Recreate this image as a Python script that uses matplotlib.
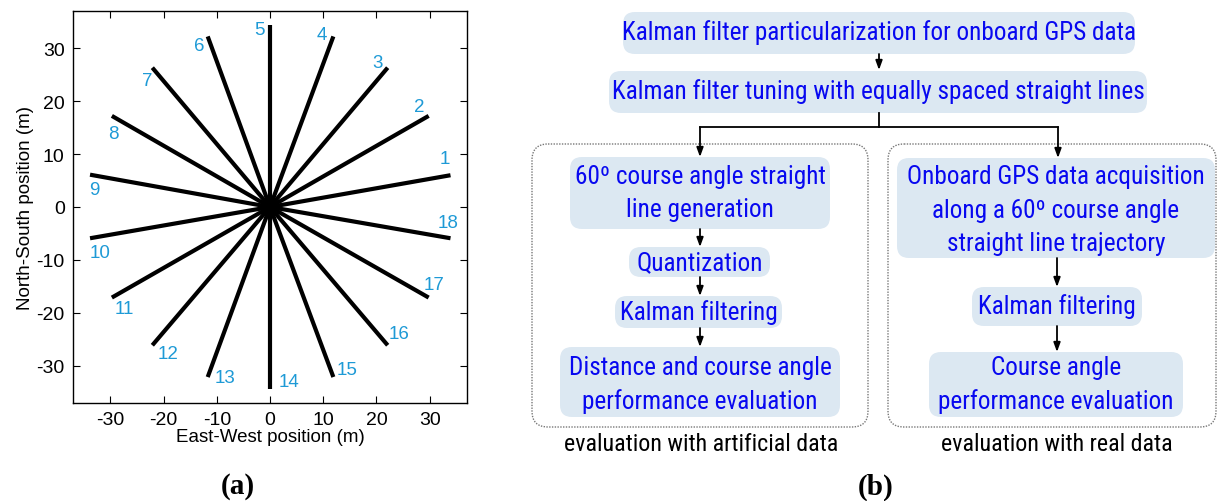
import matplotlib
matplotlib.use("Agg")
import matplotlib.pyplot as plt
from matplotlib.patches import FancyBboxPatch
from matplotlib import font_manager
from matplotlib.font_manager import FontProperties

# ---------------- data ----------------
line_ids = list(range(1, 19))
end_x = [33.9, 29.8, 22.1, 11.9, 0.0, -11.7, -22.1, -29.7, -33.8,
         -33.8, -29.7, -22.1, -11.7, 0.0, 11.9, 22.1, 29.8, 33.9]
end_y = [6.0, 17.2, 26.3, 32.2, 34.3, 32.2, 26.3, 17.2, 6.1,
         -5.9, -17.1, -26.1, -32.1, -34.3, -32.1, -26.1, -17.1, -5.9]
label_x = [32.8, 28.0, 20.2, 9.7, -1.9, -13.3, -23.1, -29.5, -33.0,
           -31.9, -27.3, -19.2, -8.4, 3.6, 14.4, 24.2, 30.9, 33.4]
label_y = [9.1, 19.0, 27.2, 32.6, 33.5, 30.4, 23.9, 13.9, 3.3,
           -8.5, -19.2, -27.7, -32.1, -33.0, -30.6, -23.8, -14.6, -3.0]
ticks = [-30, -20, -10, 0, 10, 20, 30]

# ---------------- fonts ----------------
ttf = font_manager.fontManager.ttflist
avail = {f.name for f in ttf}
sans = 'Liberation Sans' if 'Liberation Sans' in avail else 'DejaVu Sans'
serif = 'Liberation Serif' if 'Liberation Serif' in avail else 'DejaVu Serif'

narrow_file = None
prefs = ['Liberation Sans Narrow', 'Arial Narrow', 'Roboto Condensed',
         'Open Sans Condensed', 'Noto Sans Condensed', 'DejaVu Sans Condensed']
for pname in prefs:
    for f in ttf:
        if f.name == pname and f.weight in (400, 'normal', 'regular') and f.style == 'normal':
            narrow_file = f.fname
            break
    if narrow_file:
        break
if narrow_file is None:
    for f in ttf:
        fn = f.fname.lower()
        if ('condensed' in fn or 'narrow' in fn) and 'bold' not in fn and 'oblique' not in fn \
                and 'italic' not in fn and 'light' not in fn and 'thin' not in fn \
                and 'black' not in fn and 'medium' not in fn and 'semi' not in fn:
            if 'sans' in fn or 'roboto' in fn or 'arial' in fn:
                narrow_file = f.fname
                break

if narrow_file:
    def nfp(size):
        return FontProperties(fname=narrow_file, size=size)
    box_fs, cap_fs = 18.2, 17.3
else:
    def nfp(size):
        return FontProperties(family=[sans, 'DejaVu Sans'], size=size)
    box_fs, cap_fs = 15.5, 14.5

plt.rcParams['font.family'] = [sans, 'DejaVu Sans']
plt.rcParams['axes.unicode_minus'] = False

W, H = 1219, 502
fig = plt.figure(figsize=(W / 100, H / 100), dpi=100)

# ---------------- panel (a) ----------------
ax = fig.add_axes([73 / W, 1 - 404 / H, 394 / W, 392 / H])
for x, y in zip(end_x, end_y):
    ax.plot([0, x], [0, y], color='black', lw=3.0, solid_capstyle='butt')
for i, x, y in zip(line_ids, label_x, label_y):
    ax.text(x, y, str(i), color='#1e9ad6', fontsize=13.5, ha='center', va='center')
ax.set_xlim(-37, 37)
ax.set_ylim(-37, 37)
ax.set_xticks(ticks)
ax.set_yticks(ticks)
ax.tick_params(direction='in', top=True, right=True, length=5, labelsize=14, pad=6)
ax.set_xlabel('East-West position (m)', fontsize=13.5, labelpad=0)
ax.set_ylabel('North-South position (m)', fontsize=13.5, labelpad=2)
for s in ax.spines.values():
    s.set_linewidth(1.0)

# ---------------- panel (b) : flowchart ----------------
fa = fig.add_axes([0, 0, 1, 1])
fa.set_xlim(0, W)
fa.set_ylim(H, 0)
fa.axis('off')

fill = '#dce8f2'
tcol = '#0808f0'


def box(x0, y0, x1, y1, lines, line_y):
    p = FancyBboxPatch((x0, y0), x1 - x0, y1 - y0,
                       boxstyle='round,pad=0,rounding_size=12',
                       fc=fill, ec='none')
    fa.add_patch(p)
    cx = (x0 + x1) / 2
    for t, yy in zip(lines, line_y):
        fa.text(cx, yy, t, color=tcol, ha='center', va='center',
                fontproperties=nfp(box_fs))


def arrow(x, y0, y1):
    fa.annotate('', xy=(x, y1), xytext=(x, y0),
                arrowprops=dict(arrowstyle='-|>,head_length=0.55,head_width=0.2',
                                color='black', lw=1.3, shrinkA=0, shrinkB=0))


def container(x0, y0, x1, y1):
    p = FancyBboxPatch((x0, y0), x1 - x0, y1 - y0,
                       boxstyle='round,pad=0,rounding_size=16',
                       fc='none', ec='#777777', lw=1.0, ls=(0, (1, 1)))
    fa.add_patch(p)


container(532, 145, 868, 428)
container(888, 145, 1216, 428)

box(623, 13, 1135, 55, ['Kalman filter particularization for onboard GPS data'], [33])
arrow(879, 55, 71)
box(609, 72, 1147, 114, ['Kalman filter tuning with equally spaced straight lines'], [92])
fa.plot([879, 879], [114, 128], color='black', lw=1.3)
fa.plot([700, 1058], [128, 128], color='black', lw=1.3)
arrow(700, 128, 158)
arrow(1058, 128, 159)

# left column
box(570, 158, 830, 230, ['60º course angle straight', 'line generation'], [177, 210])
arrow(700, 230, 248)
box(629, 248, 770, 278, ['Quantization'], [263])
arrow(700, 278, 297)
box(615, 297, 782, 329, ['Kalman filtering'], [313])
arrow(700, 329, 348)
box(560, 348, 840, 418, ['Distance and course angle', 'performance evaluation'], [368, 402])
fa.text(701, 445, 'evaluation with artificial data', color='black',
        ha='center', va='center', fontproperties=nfp(cap_fs))

# right column
box(897, 159, 1215, 259, ['Onboard GPS data acquisition', 'along a 60º course angle',
                          'straight line trajectory'], [177, 211, 244])
arrow(1057, 259, 288)
box(972, 288, 1142, 327, ['Kalman filtering'], [307])
arrow(1057, 327, 353)
box(929, 353, 1183, 418, ['Course angle', 'performance evaluation'], [368, 402])
fa.text(1057, 445, 'evaluation with real data', color='black',
        ha='center', va='center', fontproperties=nfp(cap_fs))

# panel letters
fa.text(238, 487, '(a)', fontsize=21, fontweight='bold', family=serif, ha='center', va='center')
fa.text(876, 487, '(b)', fontsize=21, fontweight='bold', family=serif, ha='center', va='center')

fig.savefig('out.png', dpi=100)
